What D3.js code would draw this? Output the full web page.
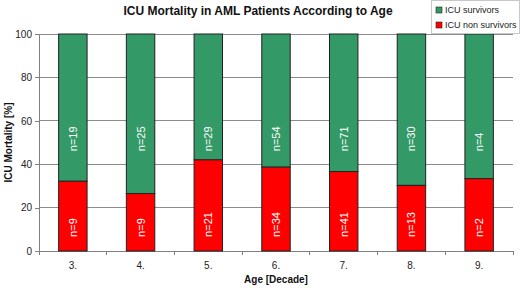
<!DOCTYPE html>
<html>
<head>
<meta charset="utf-8">
<script src="https://cdn.jsdelivr.net/npm/d3@7"></script>
<style>
  body { margin: 0; background: #fff; }
  svg { display: block; font-family: "Liberation Sans", Arial, sans-serif; }
</style>
</head>
<body>
<div id="chart"></div>
<script>
// ICU mortality per age decade - stacked 100% bars

const decades      = ["3.", "4.", "5.", "6.", "7.", "8.", "9."];
const nonSurvivors = [9, 9, 21, 34, 41, 13, 2];
const survivors    = [19, 25, 29, 54, 71, 30, 4];
const yTicks       = [0, 20, 40, 60, 80, 100];

const W = 520, H = 288;
const margin = { top: 34, right: 7, bottom: 37, left: 39 };
const width  = W - margin.left - margin.right;
const height = H - margin.top - margin.bottom;

const GREEN = "#339966", RED = "#ff0000";

const rows = decades.map((d, i) => {
  const tot = nonSurvivors[i] + survivors[i];
  return { decade: d, dead: nonSurvivors[i], alive: survivors[i],
           pDead: nonSurvivors[i] / tot * 100 };
});

const svg = d3.select("#chart").append("svg")
  .attr("width", W).attr("height", H);

const g = svg.append("g")
  .attr("transform", `translate(${margin.left},${margin.top})`);

const x = d3.scaleBand().domain(decades).range([0, width]).paddingInner(0.58).paddingOuter(0.29);
const y = d3.scaleLinear().domain([0, 100]).range([height, 0]);

// grid
g.append("g")
  .selectAll("line")
  .data(yTicks.filter(t => t > 0))
  .enter().append("line")
  .attr("x1", 0).attr("x2", width)
  .attr("y1", d => y(d)).attr("y2", d => y(d))
  .attr("stroke", "#8c8c8c").attr("stroke-width", 1)
  .attr("shape-rendering", "crispEdges");

// y axis
const yAxis = g.append("g")
  .call(d3.axisLeft(y).tickValues(yTicks).tickSize(4).tickPadding(3));
yAxis.select(".domain").attr("stroke", "#808080").attr("shape-rendering", "crispEdges");
yAxis.selectAll(".tick line").attr("stroke", "#808080").attr("shape-rendering", "crispEdges");
yAxis.selectAll("text").attr("font-size", "10px").attr("fill", "#222");

// x axis, ticks between categories
g.append("line")
  .attr("x1", 0).attr("x2", width).attr("y1", height).attr("y2", height)
  .attr("stroke", "#808080").attr("shape-rendering", "crispEdges");
const step = x.step();
g.append("g").selectAll("line")
  .data(d3.range(decades.length + 1))
  .enter().append("line")
  .attr("x1", i => i * step).attr("x2", i => i * step)
  .attr("y1", height).attr("y2", height + 4)
  .attr("stroke", "#808080").attr("shape-rendering", "crispEdges");
g.append("g").selectAll("text")
  .data(decades)
  .enter().append("text")
  .attr("x", d => x(d) + x.bandwidth() / 2)
  .attr("y", height + 18)
  .attr("text-anchor", "middle")
  .attr("font-size", "10px").attr("fill", "#222")
  .text(d => d);

// bars
const bars = g.selectAll(".bar").data(rows).enter().append("g");

bars.append("rect")
  .attr("x", d => x(d.decade)).attr("width", x.bandwidth())
  .attr("y", y(100)).attr("height", d => y(d.pDead) - y(100))
  .attr("fill", GREEN).attr("stroke", "#222").attr("stroke-width", 1);

bars.append("rect")
  .attr("x", d => x(d.decade)).attr("width", x.bandwidth())
  .attr("y", d => y(d.pDead)).attr("height", d => height - y(d.pDead))
  .attr("fill", RED).attr("stroke", "#222").attr("stroke-width", 1);

// labels inside bars, all start at the same level
const label = (sel, yStart, txt) => sel.append("text")
  .attr("transform", d => `translate(${x(d.decade) + x.bandwidth() / 2 + 4},${yStart}) rotate(-90)`)
  .attr("text-anchor", "start")
  .attr("font-size", "11px").attr("fill", "#fff")
  .text(txt);

label(bars, y(46), d => "n=" + d.alive);
label(bars, y(6.5), d => "n=" + d.dead);

// title
svg.append("text")
  .attr("x", 258).attr("y", 15)
  .attr("text-anchor", "middle")
  .attr("font-size", "12px").attr("font-weight", "bold").attr("fill", "#111")
  .text("ICU Mortality in AML Patients According to Age");

// axis titles
svg.append("text")
  .attr("transform", `translate(12,${margin.top + height / 2}) rotate(-90)`)
  .attr("text-anchor", "middle")
  .attr("font-size", "10px").attr("font-weight", "bold").attr("fill", "#111")
  .text("ICU Mortality [%]");

svg.append("text")
  .attr("x", margin.left + width / 2).attr("y", 283)
  .attr("text-anchor", "middle")
  .attr("font-size", "10px").attr("font-weight", "bold").attr("fill", "#111")
  .text("Age [Decade]");

// legend
const lg = svg.append("g").attr("transform", "translate(431,0)");
lg.append("rect")
  .attr("x", 0.5).attr("y", 0.5).attr("width", 88).attr("height", 33)
  .attr("fill", "#fff").attr("stroke", "#c8c8c8");
const legendItems = [["ICU survivors", GREEN], ["ICU non survivors", RED]];
legendItems.forEach(([name, col], i) => {
  lg.append("rect")
    .attr("x", 5).attr("y", 7 + i * 15).attr("width", 6).attr("height", 6)
    .attr("fill", col).attr("stroke", "#222").attr("stroke-width", 0.6);
  lg.append("text")
    .attr("x", 14).attr("y", 13 + i * 15)
    .attr("font-size", "9px").attr("fill", "#222")
    .text(name);
});
</script>
</body>
</html>
